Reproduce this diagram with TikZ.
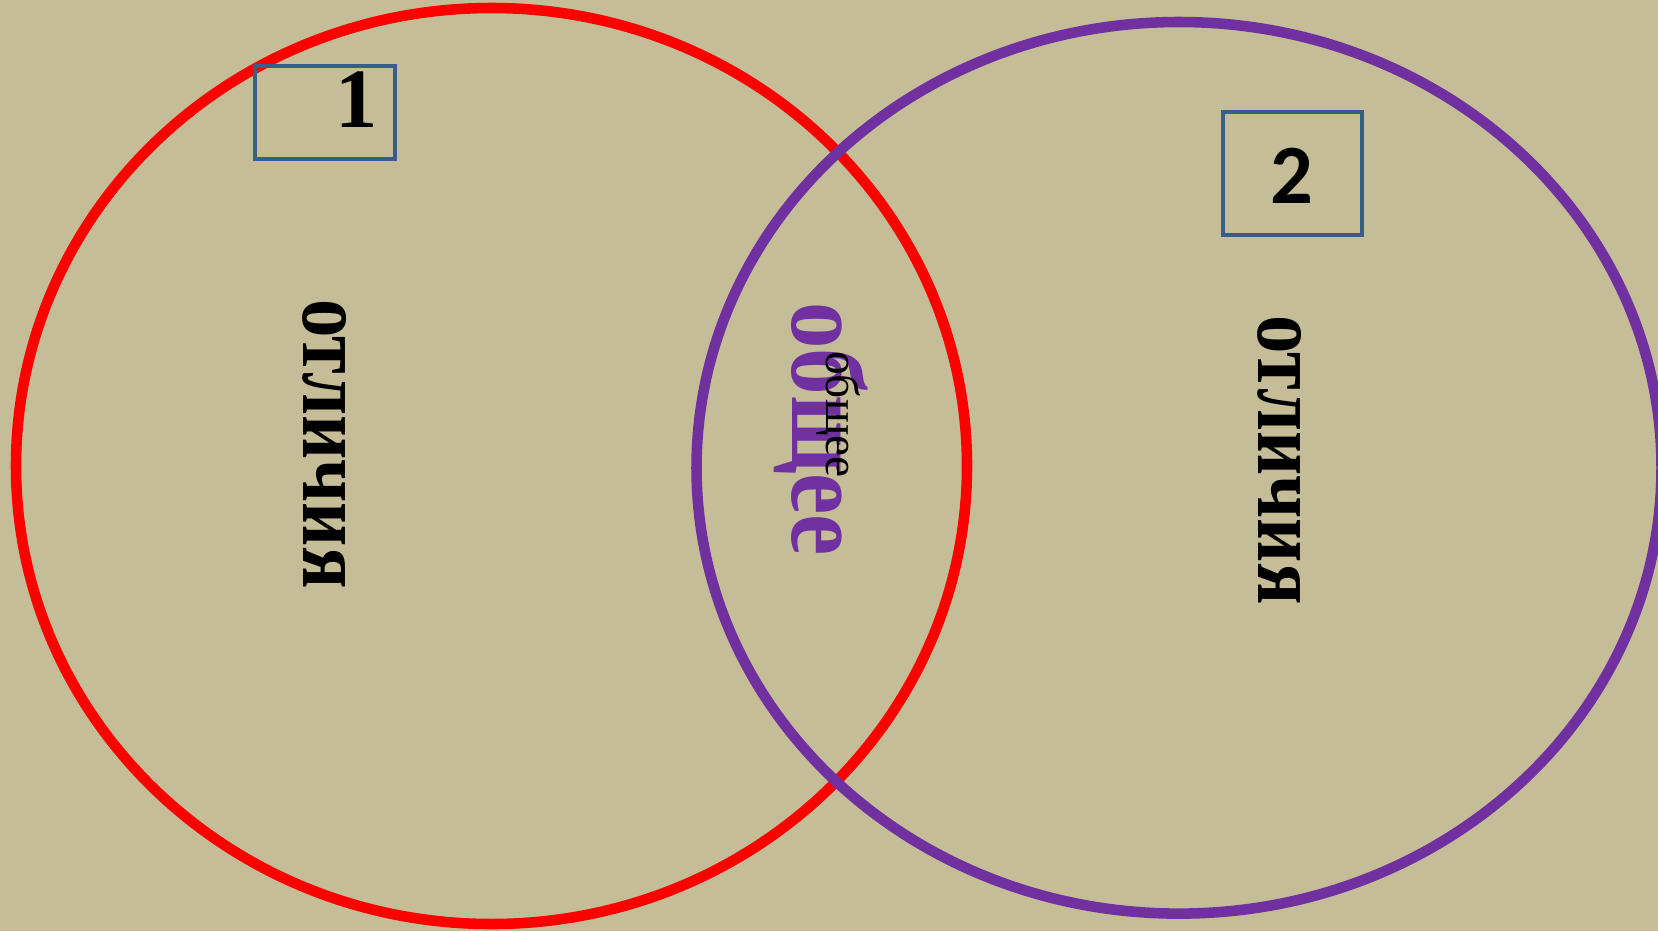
\documentclass[tikz,border=0pt]{standalone}
\usepackage{fontspec}
\setmainfont{Liberation Serif}
\newfontfamily\digitfont{Carlito}
\usepackage{xcolor}
\usepackage{tikz}
\usetikzlibrary{positioning}
\definecolor{bgtan}{RGB}{196,189,151}
\definecolor{vennred}{RGB}{255,0,0}
\definecolor{vennpurple}{RGB}{112,48,160}
\definecolor{boxblue}{RGB}{56,93,138}
\tikzset{
  numbox/.style={draw=boxblue,line width=1.15pt,minimum width=1.40cm,minimum height=0.93cm,inner sep=0pt},
  difftext/.style={rotate=-90,xscale=0.84,anchor=base,font=\fontsize{26}{26}\selectfont\bfseries}
}

\begin{document}
\begin{tikzpicture}[line width=3pt]
\useasboundingbox (0,0) rectangle (16.58,9.31);
\clip (0,0) rectangle (16.58,9.31);
\fill[bgtan] (0,0) rectangle (16.58,9.31);
% two sets
\draw[vennred] (4.915,4.65) ellipse [x radius=4.755,y radius=4.58];
\draw[vennpurple] (11.79,4.632) ellipse [x radius=4.825,y radius=4.458];
% labels of the sets
\node[numbox] (box1) at (3.25,8.185) {};
\node[anchor=base,font=\fontsize{24}{24}\selectfont\bfseries] (num1) at (3.57,8.04) {1};
\node[numbox,minimum height=1.23cm,minimum width=1.39cm] (box2) at (12.925,7.575) {};
\node[anchor=base,font=\fontsize{24}{24}\selectfont\digitfont\bfseries] (num2) at (12.92,7.28) {2};
% texts
\node[difftext] (diffleft) at (3.03,4.87) {отличия};
\node[difftext] (diffright) at (12.58,4.71) {отличия};
\node[rotate=-90,xscale=0.88,anchor=base,text=vennpurple,font=\fontsize{30}{30}\selectfont\bfseries] (commonbig) at (7.92,5.02) {общее};
\node[rotate=-90,anchor=base,font=\fontsize{13.5}{13.5}\selectfont] (commonsmall) at (8.26,5.165) {общее};
\end{tikzpicture}
\end{document}
